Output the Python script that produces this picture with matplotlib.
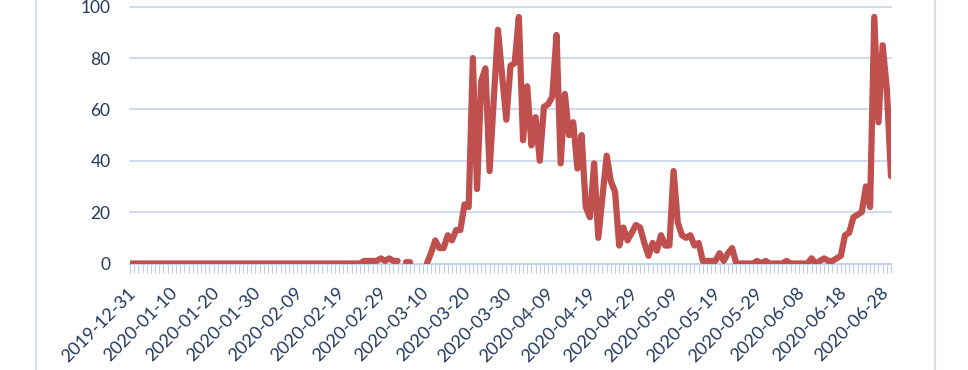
import matplotlib
matplotlib.use("Agg")
import matplotlib.pyplot as plt
import matplotlib.transforms as mtransforms
from matplotlib.lines import Line2D
import numpy as np
import pandas as pd

# ---- data -------------------------------------------------------------
start_date = "2019-12-31"
n_days = 183
nan = np.nan
values = (
    [0] * 56 +
    [1, 1, 1, 1, 2, 1, 2, 1, 1] +            # days 56-64
    [nan] +                                   # 65
    [0.5, 0.5] +                              # 66-67
    [nan, nan, nan] +                         # 68-70
    [0, 4, 9, 6, 6, 11, 9, 13, 13, 23,        # 71-80
     22, 80, 29, 71, 76, 36, 64, 91, 73, 56,  # 81-90
     77, 78, 96, 48, 69, 46, 57, 40, 61, 62,  # 91-100
     65, 89, 39, 66, 50, 55, 37, 50, 22, 18,  # 101-110
     39, 10, 26, 42, 32, 28, 7, 14, 9, 12,    # 111-120
     15, 14, 8, 3, 8, 5, 11, 7, 7, 36,        # 121-130
     16, 11, 10, 11, 7, 8, 1, 1, 1, 1,        # 131-140
     4, 1, 4, 6, 0, 0, 0, 0, 0, 1,            # 141-150
     0, 1, 0, 0, 0, 0, 1, 0, 0, 0,            # 151-160
     0, 0, 2, 0, 1, 2, 1, 1, 2, 3,            # 161-170
     11, 12, 18, 19, 20, 30, 22, 96, 55, 85,  # 171-180
     68, 34]                                  # 181-182
)
tick_labels = ["2019-12-31", "2020-01-10", "2020-01-20", "2020-01-30",
               "2020-02-09", "2020-02-19", "2020-02-29", "2020-03-10",
               "2020-03-20", "2020-03-30", "2020-04-09", "2020-04-19",
               "2020-04-29", "2020-05-09", "2020-05-19", "2020-05-29",
               "2020-06-08", "2020-06-18", "2020-06-28"]
y_ticks = [0, 20, 40, 60, 80, 100]

dates = pd.date_range(start_date, periods=n_days, freq="D")
x = np.arange(len(dates))
y = np.array(values, dtype=float)

# ---- style ------------------------------------------------------------
plt.rcParams['font.family'] = ['Lato', 'DejaVu Sans']
text_color = "#23395D"
grid_color = "#CCD8EA"
tick_color = "#C3D2E8"
line_color = "#C0504D"

W, H = 968, 370
fig = plt.figure(figsize=(W / 100, H / 100), dpi=100)
fig.patch.set_facecolor("white")

left, right = 130, 891
top, bottom = 6.7, 263.5
ax = fig.add_axes([left / W, (H - bottom) / H, (right - left) / W, (bottom - top) / H])

ax.plot(x, y, color=line_color, lw=4.5, solid_capstyle="round",
        solid_joinstyle="round", zorder=3)

ax.set_xlim(0, n_days - 1)
ax.set_ylim(0, 100)

ax.set_yticks(y_ticks)
ax.set_yticklabels([str(v) for v in y_ticks])
ax.yaxis.grid(True, color=grid_color, lw=1.3)
for gl in ax.get_ygridlines():
    gl.set_clip_on(False)
ax.set_axisbelow(True)
ax.tick_params(axis="y", length=0, pad=14, labelsize=12.5, labelcolor=text_color)

major_pos = [dates.get_loc(pd.Timestamp(d)) for d in tick_labels]
ax.set_xticks(major_pos)
ax.set_xticklabels(tick_labels, rotation=45, ha="right", va="center",
                   rotation_mode="anchor")
ax.set_xticks(x, minor=True)
ax.tick_params(axis="x", which="both", length=6.5, width=0.9, color=tick_color,
               direction="out")
ax.tick_params(axis="x", which="major", pad=13, labelsize=13, labelcolor=text_color)

offset = mtransforms.ScaledTranslation(3 / 100, 0, fig.dpi_scale_trans)
for lab in ax.get_xticklabels():
    lab.set_transform(lab.get_transform() + offset)

for s in ["top", "right", "left"]:
    ax.spines[s].set_visible(False)
ax.spines["bottom"].set_color(tick_color)
ax.spines["bottom"].set_linewidth(1.3)

# chart-area border lines (left and right)
for xp in (36, 935):
    fig.add_artist(Line2D([xp / W, xp / W], [0, 1], transform=fig.transFigure,
                          color="#D3DDEB", lw=1.6))

fig.savefig("out.png", dpi=100)
